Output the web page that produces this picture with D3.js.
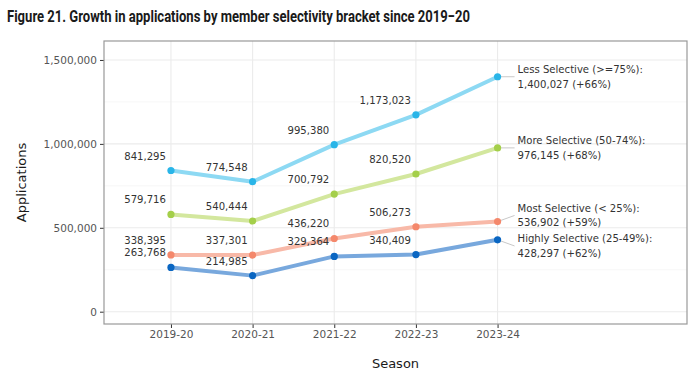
<!DOCTYPE html>
<html><head><meta charset="utf-8">
<script src="https://cdn.jsdelivr.net/npm/d3@7"></script>
<style>
html,body{margin:0;padding:0;background:#fff;}
svg{display:block;}
</style></head>
<body>
<svg id="chart" width="700" height="379"></svg>
<script>
const seasons = ["2019-20","2020-21","2021-22","2022-23","2023-24"];
const seriesNames = ["Less Selective (>=75%)","More Selective (50-74%)","Most Selective (< 25%)","Highly Selective (25-49%)"];
const lessSelective = [841295, 774548, 995380, 1173023, 1400027];
const moreSelective = [579716, 540444, 700792, 820520, 976145];
const mostSelective = [338395, 337301, 436220, 506273, 536902];
const highlySelective = [263768, 214985, 329364, 340409, 428297];
const growthPct = [66, 68, 59, 62];
const yTicks = [0, 500000, 1000000, 1500000];
const yMinorTicks = [250000, 750000, 1250000];
const lineColors = ["#8dd9f3","#d3e79e","#f8b9a8","#78a8dd"];
const pointColors = ["#29b5e8","#a4cf4a","#f4886c","#0a66c2"];

const seriesValues = [lessSelective, moreSelective, mostSelective, highlySelective];
const series = seriesNames.map((n,i)=>({name:n, values:seriesValues[i], growth:growthPct[i], line:lineColors[i], point:pointColors[i]}));

const svg = d3.select("#chart");
const panel = {left:104, right:687, top:41, bottom:324};

const x = d3.scaleLinear().domain([-0.82, 6.32]).range([panel.left, panel.right]);
const y = d3.scaleLinear().domain([-73300, 1613000]).range([panel.bottom, panel.top]);
const fmt = d3.format(",");

// title
svg.append("text").attr("x",7).attr("y",21.5)
  .attr("font-family","Roboto, sans-serif").attr("font-weight","bold")
  .attr("font-size",17).attr("fill","#1a1a1a")
  .attr("textLength",463).attr("lengthAdjust","spacingAndGlyphs")
  .text("Figure 21. Growth in applications by member selectivity bracket since 2019\u221220");

// panel bg
svg.append("rect").attr("x",panel.left).attr("y",panel.top)
  .attr("width",panel.right-panel.left).attr("height",panel.bottom-panel.top)
  .attr("fill","#fff");

const grid = svg.append("g");
grid.selectAll(".minor").data(yMinorTicks).join("line")
  .attr("x1",panel.left).attr("x2",panel.right)
  .attr("y1",d=>y(d)).attr("y2",d=>y(d))
  .attr("stroke","#f2f2f2").attr("stroke-width",0.6);
grid.selectAll(".major").data(yTicks).join("line")
  .attr("x1",panel.left).attr("x2",panel.right)
  .attr("y1",d=>y(d)).attr("y2",d=>y(d))
  .attr("stroke","#ebebeb").attr("stroke-width",1.1);
grid.selectAll(".vx").data(seasons).join("line")
  .attr("x1",(d,i)=>x(i)).attr("x2",(d,i)=>x(i))
  .attr("y1",panel.top).attr("y2",panel.bottom)
  .attr("stroke","#ebebeb").attr("stroke-width",1.1);

// axes
const yAxis = d3.axisLeft(y).tickValues(yTicks).tickFormat(fmt).tickSize(4).tickPadding(3);
const gy = svg.append("g").attr("transform",`translate(${panel.left},0)`).call(yAxis);
const xAxis = d3.axisBottom(x).tickValues(d3.range(seasons.length)).tickFormat(i=>seasons[i]).tickSize(4).tickPadding(3);
const gx = svg.append("g").attr("transform",`translate(0,${panel.bottom})`).call(xAxis);
[gx,gy].forEach(g=>{
  g.select(".domain").remove();
  g.selectAll(".tick line").attr("stroke","#333").attr("stroke-width",1);
  g.selectAll(".tick text").attr("font-family","DejaVu Sans, sans-serif").attr("font-size",10.5).attr("fill","#555");
});

// panel border
svg.append("rect").attr("x",panel.left).attr("y",panel.top)
  .attr("width",panel.right-panel.left).attr("height",panel.bottom-panel.top)
  .attr("fill","none").attr("stroke","#999").attr("stroke-width",1.2);

// axis titles
svg.append("text").attr("transform",`translate(26,${(panel.top+panel.bottom)/2}) rotate(-90)`)
  .attr("text-anchor","middle").attr("font-family","DejaVu Sans, sans-serif")
  .attr("font-size",13).attr("fill","#1a1a1a").text("Applications");
svg.append("text").attr("x",(panel.left+panel.right)/2).attr("y",368)
  .attr("text-anchor","middle").attr("font-family","DejaVu Sans, sans-serif")
  .attr("font-size",13).attr("fill","#1a1a1a").text("Season");

// lines
const line = d3.line().x((d,i)=>x(i)).y(d=>y(d));
const gl = svg.append("g");
series.forEach(s=>{
  gl.append("path").datum(s.values).attr("d",line)
    .attr("fill","none").attr("stroke",s.line).attr("stroke-width",4)
    .attr("stroke-linejoin","round").attr("stroke-linecap","round");
});

// end labels with simple repel
const last = seasons.length-1;
const ends = series.map(s=>({s, py:y(s.values[last]), ly:y(s.values[last])}));
const sorted = ends.slice().sort((a,b)=>a.py-b.py);
const minSep = 30.5;
for(let iter=0; iter<50; iter++){
  for(let k=1;k<sorted.length;k++){
    const a=sorted[k-1], b=sorted[k];
    const gap=b.ly-a.ly;
    if(gap<minSep){const d=(minSep-gap)/2; a.ly-=d; b.ly+=d;}
  }
}
const labelX = x(last)+20;
const gEnd = svg.append("g");
ends.forEach(e=>{
  gEnd.append("line").attr("x1",x(last)).attr("y1",e.py).attr("x2",labelX-3).attr("y2",e.ly)
    .attr("stroke","#c8c8c8").attr("stroke-width",1);
  const t = gEnd.append("text").attr("font-family","DejaVu Sans, sans-serif")
    .attr("font-size",10.1).attr("fill","#333");
  t.append("tspan").attr("x",labelX).attr("y",e.ly-7.2+3.6).text(e.s.name+":");
  t.append("tspan").attr("x",labelX).attr("y",e.ly+7.2+3.6).text(`${fmt(e.s.values[last])} (+${e.s.growth}%)`);
});

// points
const gp = svg.append("g");
series.forEach(s=>{
  gp.selectAll(null).data(s.values).join("circle")
    .attr("cx",(d,i)=>x(i)).attr("cy",d=>y(d)).attr("r",3.6).attr("fill",s.point);
});

// value labels
const gt = svg.append("g");
series.forEach(s=>{
  gt.selectAll(null).data(s.values.slice(0,last)).join("text")
    .attr("x",(d,i)=>x(i)-5).attr("y",d=>y(d)-11)
    .attr("text-anchor","end").attr("font-family","DejaVu Sans, sans-serif")
    .attr("font-size",10.1).attr("fill","#333").text(d=>fmt(d));
});
</script>
</body></html>
